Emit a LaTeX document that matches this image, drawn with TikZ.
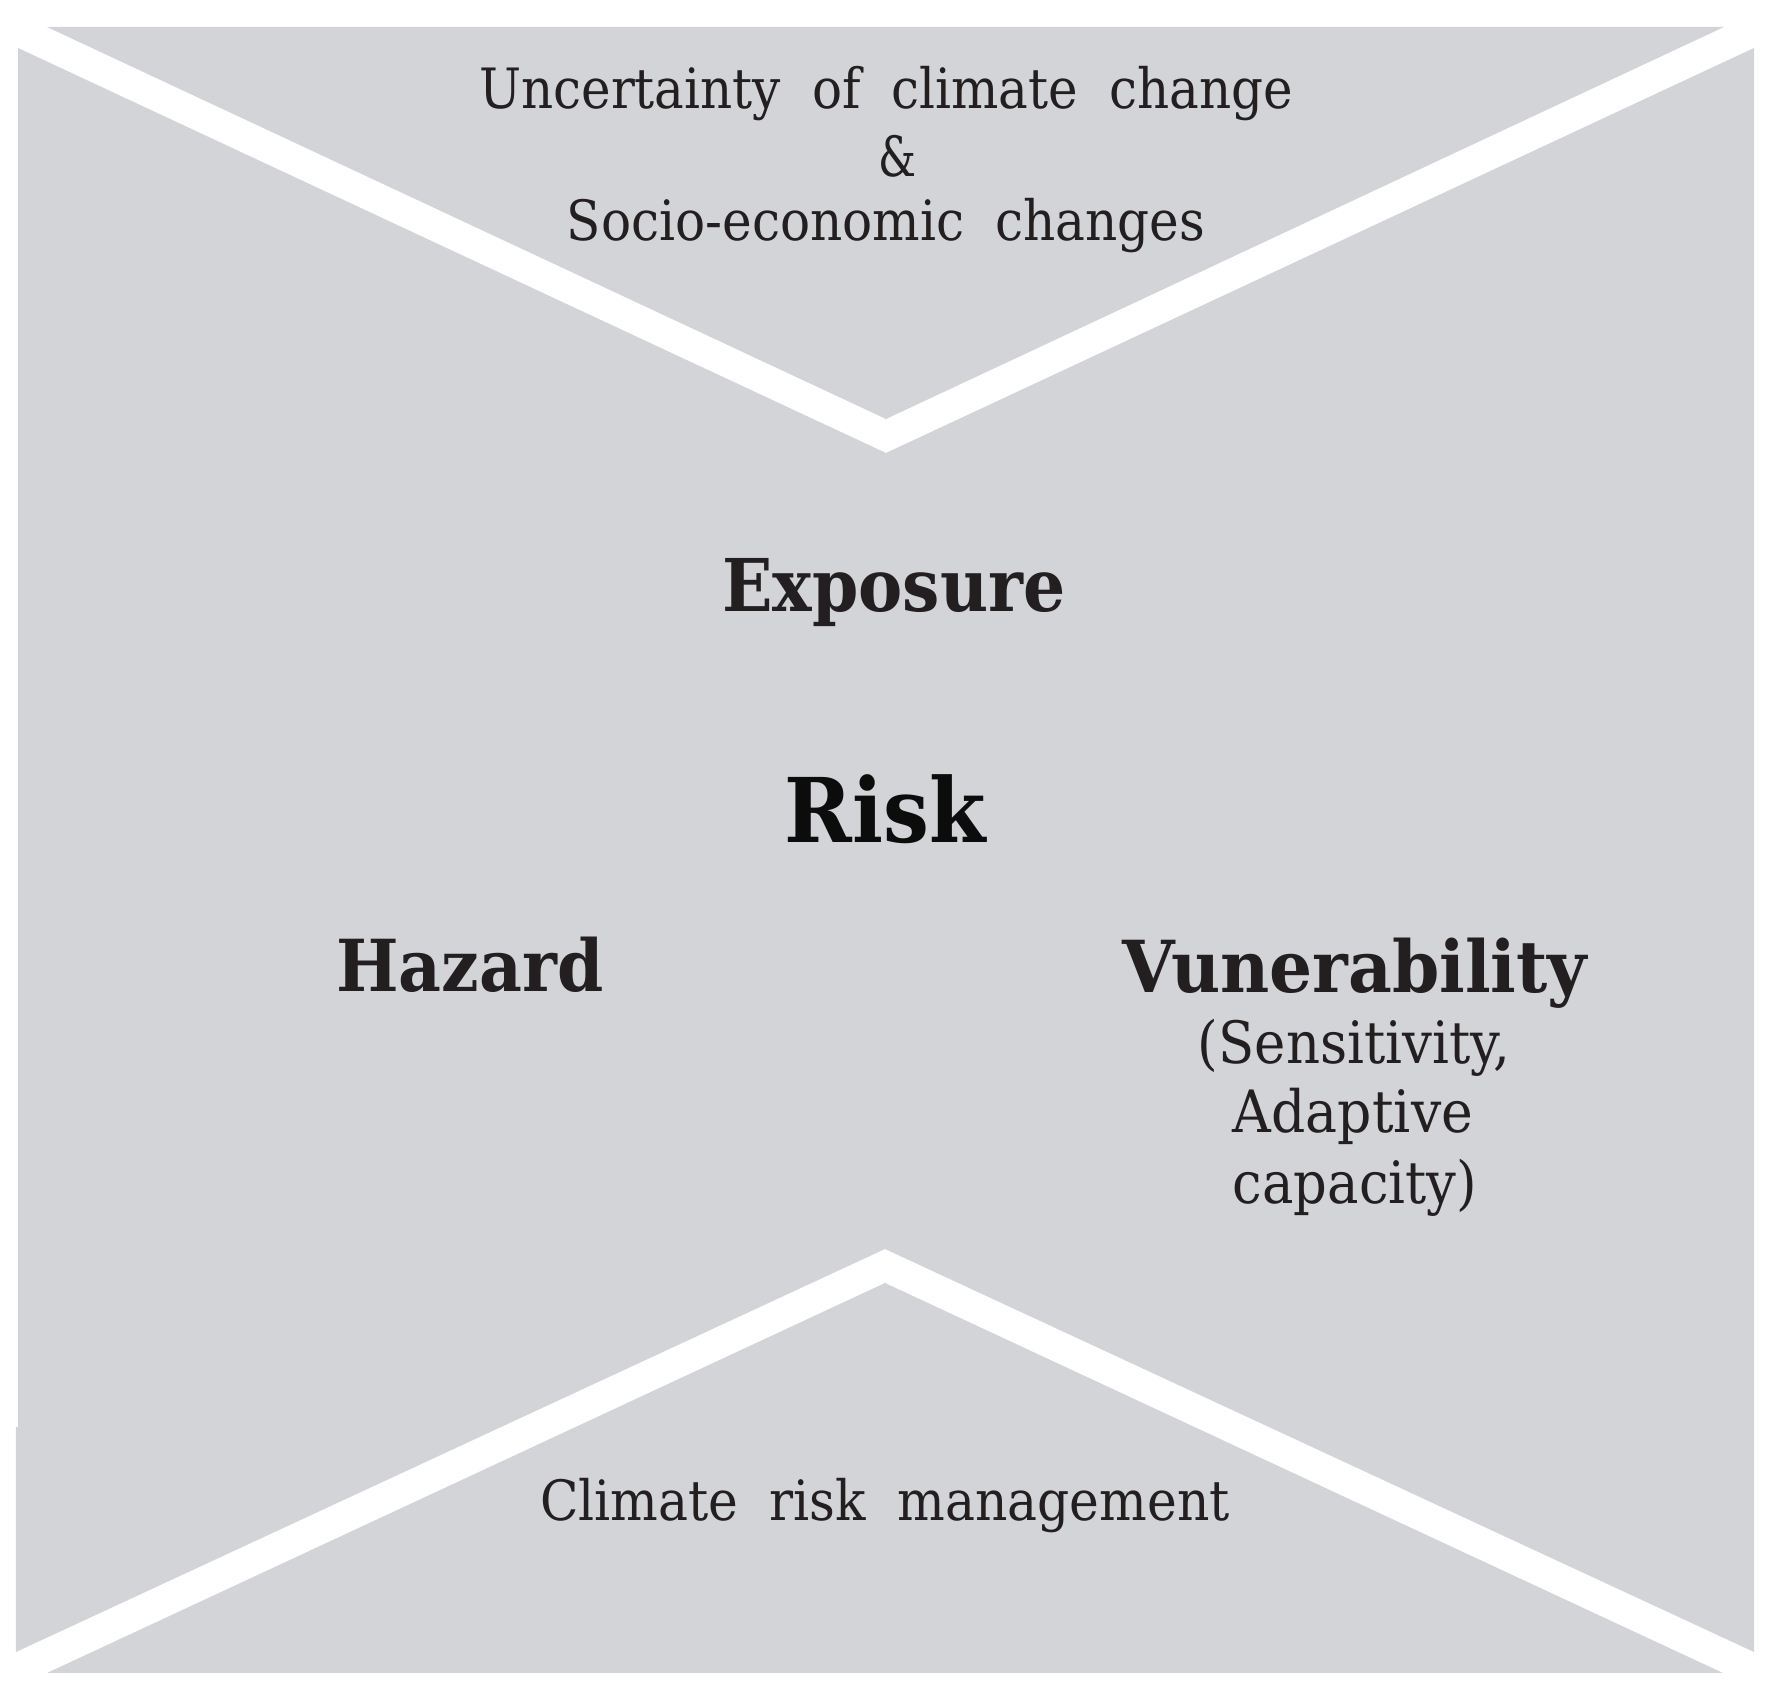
\documentclass[tikz,border=0pt]{standalone}
\usepackage{fontspec}
\setmainfont{DejaVu Serif}
\usepackage{graphicx}
\definecolor{panel}{RGB}{211,212,215}
\definecolor{ink}{RGB}{35,31,32}
\definecolor{inkdark}{RGB}{12,12,12}
\newcommand{\fitto}[2]{\resizebox{#1}{\height}{#2}}
\newcommand{\wsp}{\hspace{0.62em}}
\tikzset{
  txt/.style={inner sep=0pt, outer sep=0pt, anchor=base, text=ink},
  small/.style={txt, font=\fontsize{15.8}{18}\selectfont},
  sub/.style={txt, font=\fontsize{16.6}{20}\selectfont},
  head/.style={txt, font=\fontsize{20.4}{24}\selectfont\bfseries},
}
\begin{document}
\begin{tikzpicture}[x=0.01cm,y=-0.01cm]
\useasboundingbox (0,0) rectangle (1771,1695);
% panels
\fill[panel] (47,27) -- (1724,27) -- (886,419) -- cycle;
\fill[panel] (18,48) -- (886,453) -- (1754,48) -- (1754,1652) -- (885,1249)
  -- (16,1652) -- (16,1427) -- (18,1427) -- cycle;
\fill[panel] (47,1673) -- (885,1283) -- (1723,1673) -- cycle;
% top texts
\node[small] (unc) at (886,109) {\fitto{8.13cm}{Uncertainty\wsp of\wsp climate\wsp change}};
\node[small] (amp) at (898,177) {\fitto{0.38cm}{\&}};
\node[small] (soc) at (886,241) {\fitto{6.38cm}{Socio-economic\wsp changes}};
% centre texts
\node[txt, font=\fontsize{20.7}{24}\selectfont\bfseries] (exp) at (894,612) {\fitto{3.43cm}{Exposure}};
\node[txt, text=inkdark, font=\fontsize{25.4}{30}\selectfont\bfseries] (risk) at (885,843) {\fitto{2.01cm}{Risk}};
\node[head] (haz) at (470,992) {\fitto{2.67cm}{Hazard}};
\node[head] (vul) at (1355,993) {\fitto{4.64cm}{Vunerability}};
\node[sub] (sen) at (1354,1064) {\fitto{3.12cm}{(Sensitivity,}};
\node[sub] (ada) at (1353,1133) {\fitto{2.40cm}{Adaptive}};
\node[sub] (cap) at (1355,1204) {\fitto{2.44cm}{capacity)}};
% bottom text
\node[small] (crm) at (885,1521) {\fitto{6.89cm}{Climate\wsp risk\wsp management}};
\end{tikzpicture}
\end{document}
